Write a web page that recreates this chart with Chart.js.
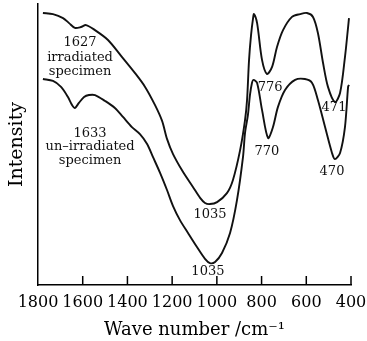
<!DOCTYPE html>
<html>
<head>
<meta charset="utf-8">
<script src="https://cdn.jsdelivr.net/npm/chart.js@4/dist/chart.umd.min.js"></script>
<style>
html,body{margin:0;padding:0;background:#fff;}
#wrap{width:367px;height:341px;position:relative;}
</style>
</head>
<body>
<div id="wrap"><canvas id="c" width="367" height="341"></canvas></div>
<script>
// Wavenumbers (cm^-1) and intensities (arbitrary units, 0-100)
const irrWave = [1778,1733,1688,1661,1635,1608,1585,1545,1487,1424,1366,1321,1277,1245,1223,1196,1151,1107,1075,1053,1031,999,955,928,896,874,865,856,847,838,834,820,798,776,753,731,704,664,628,597,570,548,525,503,472,449,427,413,409];
const irrInt  = [96.8,96.4,95.0,93.2,91.5,91.8,92.5,90.7,87.2,81.1,75.4,70.5,64.1,58.4,52.0,46.6,40.2,34.9,31.0,29.2,28.8,29.5,32.7,37.4,48.0,58.7,65.8,80.1,89.0,95.0,96.4,93.2,80.1,75.1,77.6,84.7,90.7,95.4,96.4,96.8,95.4,89.7,79.0,70.5,65.1,68.3,81.1,91.8,95.0];

const unWave = [1778,1733,1697,1666,1648,1635,1617,1594,1572,1545,1500,1456,1420,1380,1344,1312,1286,1254,1223,1196,1165,1129,1089,1053,1031,1008,977,941,910,883,874,861,852,843,836,820,798,771,749,727,695,650,606,574,548,516,485,472,449,427,413,409];
const unInt  = [73.3,72.6,70.5,66.9,64.1,63.0,64.8,66.9,67.6,67.6,65.5,63.0,59.8,56.2,53.7,50.2,45.6,39.9,33.8,28.1,23.1,18.5,13.5,9.3,7.8,8.2,11.4,18.5,30.2,45.6,54.1,60.5,67.6,71.9,73.0,71.9,62.3,52.3,56.2,63.3,69.4,73.0,73.3,71.9,65.8,56.2,47.0,44.8,47.0,56.2,70.5,71.2];

const xTickValues = [1800,1600,1400,1200,1000,800,600,400];

// Text labels placed in data coordinates
const noteText = ["1627","irradiated","specimen","1633","un\u2013irradiated","specimen","776","471","770","470","1035","1035"];
const noteWave = [1612,1612,1612,1567,1567,1567,762,476,776,485,1031,1040];
const noteInt  = [86.1,80.8,75.8,53.7,49.1,44.1,70.1,63.0,47.3,40.2,24.9,4.6];

const SERIF = "'DejaVu Serif', serif";

const toPts = (xs, ys) => xs.map((x, i) => ({x: x, y: ys[i]}));

const extras = {
  id: 'extras',
  afterDraw(chart) {
    const {ctx, scales: {x, y}} = chart;
    ctx.save();
    // inward tick marks
    ctx.strokeStyle = '#000';
    ctx.lineWidth = 1.5;
    const yb = y.getPixelForValue(0);
    xTickValues.forEach(v => {
      if (v === 1800) return;
      const px = x.getPixelForValue(v);
      ctx.beginPath();
      ctx.moveTo(px, yb);
      ctx.lineTo(px, yb - 9);
      ctx.stroke();
    });
    // annotations
    ctx.fillStyle = '#111';
    ctx.font = "13px " + SERIF;
    ctx.textAlign = 'center';
    ctx.textBaseline = 'middle';
    noteText.forEach((t, i) => {
      ctx.fillText(t, x.getPixelForValue(noteWave[i]), y.getPixelForValue(noteInt[i]));
    });
    ctx.restore();
  }
};

new Chart(document.getElementById('c'), {
  type: 'line',
  data: {
    datasets: [
      {label: 'irradiated', data: toPts(irrWave, irrInt), borderColor: '#111', borderWidth: 1.9, pointRadius: 0, fill: false, tension: 0.3},
      {label: 'un-irradiated', data: toPts(unWave, unInt), borderColor: '#111', borderWidth: 1.9, pointRadius: 0, fill: false, tension: 0.3}
    ]
  },
  options: {
    responsive: false,
    animation: false,
    events: [],
    layout: {padding: {top: 4, right: 0, left: 0, bottom: 0}},
    plugins: {legend: {display: false}, tooltip: {enabled: false}},
    scales: {
      x: {
        type: 'linear',
        reverse: true,
        min: 400,
        max: 1800,
        afterBuildTicks: (s) => { s.ticks = xTickValues.map(v => ({value: v})); },
        afterFit: (s) => { s.height = 56; s.paddingRight = 16; s.paddingLeft = 0; },
        grid: {display: false, drawTicks: false},
        border: {display: true, color: '#000', width: 1.5},
        ticks: {color: '#000', font: {family: SERIF, size: 16}, padding: 8, maxRotation: 0, autoSkip: false, callback: (v) => String(v)},
        title: {display: true, text: 'Wave number /cm\u207B\u00B9', color: '#000', font: {family: SERIF, size: 18}, padding: {top: 0, bottom: 0}}
      },
      y: {
        min: 0,
        max: 100,
        afterFit: (s) => { s.width = 38; },
        grid: {display: false, drawTicks: false},
        border: {display: true, color: '#000', width: 1.5},
        ticks: {display: false},
        title: {display: true, text: 'Intensity', color: '#000', font: {family: SERIF, size: 19}, padding: {top: 6, bottom: 0}}
      }
    }
  },
  plugins: [extras]
});
</script>
</body>
</html>
